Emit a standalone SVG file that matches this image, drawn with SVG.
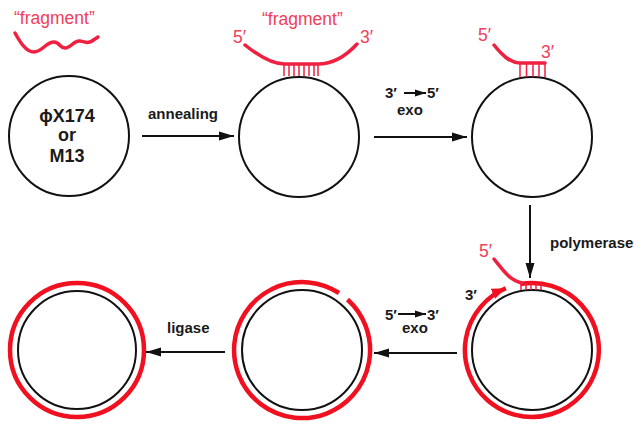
<svg xmlns="http://www.w3.org/2000/svg" width="634" height="441" viewBox="0 0 634 441">
<defs>
<marker id="ah" markerUnits="userSpaceOnUse" markerWidth="16" markerHeight="10" refX="15" refY="5" orient="auto"><path d="M0,0.5 L15,5 L0,9.5 Z" fill="#111"/></marker>
<marker id="ahs" markerUnits="userSpaceOnUse" markerWidth="12" markerHeight="8" refX="11" refY="4" orient="auto"><path d="M0,0.5 L11,4 L0,7.5 Z" fill="#111"/></marker>
<marker id="ahr" markerUnits="userSpaceOnUse" markerWidth="16" markerHeight="12" refX="14" refY="6" orient="auto"><path d="M0,0.5 L14,6 L0,11.5 Z" fill="#f01020"/></marker>
</defs>
<style>
.t{font-family:"Liberation Sans",Arial,sans-serif;font-weight:bold;font-size:15px;fill:#1a1a1a}
.big{font-size:18px}
.r{font-family:"Liberation Sans",Arial,sans-serif;font-size:17.5px;fill:#f0405a}
.c{fill:none;stroke:#111;stroke-width:2}
.rc{fill:none;stroke:#f01020;stroke-width:4.5}
.fr{fill:none;stroke:#f02040;stroke-width:3.5;stroke-linecap:round}
.tk{stroke:#f02040;stroke-width:1.5}
.ar{stroke:#111;stroke-width:2}
</style>
<rect width="634" height="441" fill="#fff"/>

<g id="fragment-free">
<text class="r" x="14" y="24">“fragment”</text>
<path class="fr" d="M15,33 C20,42 26,52 34,52 C42,52 46,42 54,42 C60,42 60,49 66,48 C72,47 74,40 80,41 C86,42 88,44 92,41 L98,37"/>
</g>

<g id="circle1">
<circle class="c" cx="69" cy="136" r="60"/>
<text class="t big" x="67" y="122" text-anchor="middle">ϕX174</text>
<text class="t big" x="67" y="141" text-anchor="middle">or</text>
<text class="t big" x="67" y="162" text-anchor="middle">M13</text>
</g>

<g id="circle2">
<circle class="c" cx="299" cy="137" r="60"/>
<text class="r" x="262" y="25">“fragment”</text>
<text class="r" x="233" y="43">5′</text>
<text class="r" x="360" y="43">3′</text>
<path class="fr" d="M245,45 C260,57 272,64 284,64 L318,64 C332,64 346,56 357,44"/>
<g class="tk"><line x1="284" y1="64" x2="284" y2="76"/><line x1="289" y1="64" x2="289" y2="76"/><line x1="294" y1="64" x2="294" y2="76"/><line x1="299" y1="64" x2="299" y2="76"/><line x1="304" y1="64" x2="304" y2="76"/><line x1="309" y1="64" x2="309" y2="76"/><line x1="314" y1="64" x2="314" y2="76"/><line x1="318" y1="64" x2="318" y2="76"/></g>
</g>

<g id="circle3">
<circle class="c" cx="532" cy="137" r="60"/>
<text class="r" x="478" y="41">5′</text>
<text class="r" x="541" y="58">3′</text>
<path class="fr" d="M494,45 C502,55 510,63 520,63 L545,63"/>
<g class="tk"><line x1="520" y1="63" x2="520" y2="77"/><line x1="526.5" y1="63" x2="526.5" y2="77"/><line x1="533" y1="63" x2="533" y2="77"/><line x1="539" y1="63" x2="539" y2="77"/><line x1="545" y1="63" x2="545" y2="77"/></g>
</g>

<g id="circle4">
<circle class="c" cx="532" cy="350" r="60"/>
<path class="rc" d="M520.4,284 A67,67 0 1 1 505.8,288.3" marker-end="url(#ahr)"/>
<path class="fr" d="M494,259 C503,270 510,281 522,283"/>
<g class="tk"><line x1="521" y1="283" x2="521" y2="290"/><line x1="526" y1="283" x2="526" y2="290"/><line x1="531" y1="283" x2="531" y2="290"/><line x1="536" y1="283" x2="536" y2="290"/><line x1="541" y1="283" x2="541" y2="290"/></g>
<text class="r" x="479" y="257">5′</text>
<text class="t" x="465" y="300">3′</text>
</g>

<g id="circle5">
<circle class="c" cx="302" cy="350" r="60"/>
<path class="rc" d="M347.5,299.5 A68,68 0 1 1 339,293"/>
</g>

<g id="circle6">
<circle class="c" cx="77" cy="350" r="59"/>
<circle class="rc" cx="77" cy="350" r="67"/>
</g>

<g id="connectors">
<line class="ar" x1="142" y1="136" x2="234" y2="136" marker-end="url(#ah)"/>
<text class="t" x="148" y="119">annealing</text>
<line class="ar" x1="374" y1="137" x2="467" y2="137" marker-end="url(#ah)"/>
<text class="t" x="385" y="98">3′</text>
<line class="ar" x1="404" y1="93" x2="426" y2="93" marker-end="url(#ahs)"/>
<text class="t" x="427" y="98">5′</text>
<text class="t" x="397" y="115">exo</text>
<line class="ar" x1="530" y1="205" x2="530" y2="278" marker-end="url(#ah)"/>
<text class="t" x="550" y="248">polymerase</text>
<line class="ar" x1="457" y1="353" x2="374" y2="353" marker-end="url(#ah)"/>
<text class="t" x="385" y="320">5′</text>
<line class="ar" x1="398" y1="314" x2="426" y2="314" marker-end="url(#ahs)"/>
<text class="t" x="427" y="320">3′</text>
<text class="t" x="402" y="333">exo</text>
<line class="ar" x1="225" y1="352" x2="146" y2="352" marker-end="url(#ah)"/>
<text class="t" x="167" y="333">ligase</text>
</g>
</svg>
